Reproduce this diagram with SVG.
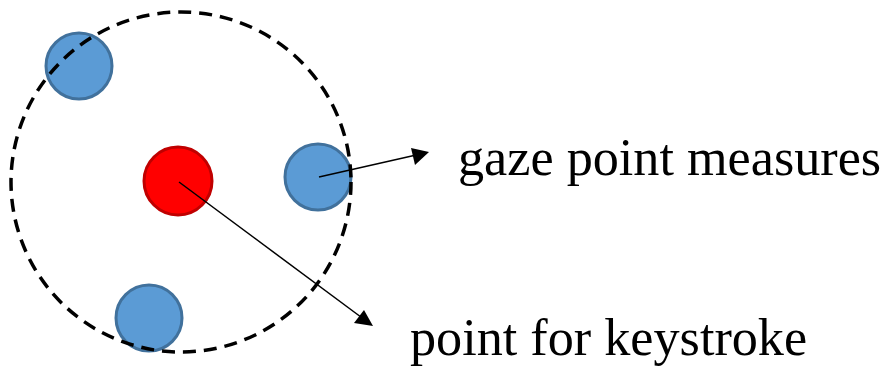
<svg xmlns="http://www.w3.org/2000/svg" width="888" height="366" viewBox="0 0 888 366">
<defs>
<style>
.blue{fill:#5b9bd5;stroke:#41719c;stroke-width:3}
.red{fill:#ff0000;stroke:#c00000;stroke-width:3}
.conn{stroke:#000;stroke-width:1.5;fill:none}
.lbl{font-family:"Liberation Serif","Times New Roman",serif;font-size:52.2px;fill:#000}
</style>
</defs>
<g id="gaze1"><circle class="blue" cx="79" cy="66" r="33"/></g>
<g id="gaze2"><circle class="blue" cx="318" cy="177" r="33"/></g>
<g id="gaze3"><circle class="blue" cx="149" cy="318" r="33"/></g>
<g id="keystroke"><circle class="red" cx="178" cy="181" r="34"/></g>
<g id="boundary">
<circle cx="181" cy="182" r="170" fill="none" stroke="#000" stroke-width="3.5" stroke-dasharray="13 8"/>
</g>
<g id="connectors">
<line class="conn" x1="319" y1="177" x2="425" y2="153"/>
<path d="M429,152 L411,148 L415,165 z" fill="#000"/>
<line class="conn" x1="179" y1="182" x2="369" y2="323"/>
<path d="M373,326 L354,323 L364,310 z" fill="#000"/>
</g>
<g id="label-gaze"><text class="lbl" x="458" y="175">gaze point measures</text></g>
<g id="label-key"><text class="lbl" x="410" y="355">point for keystroke</text></g>
</svg>
